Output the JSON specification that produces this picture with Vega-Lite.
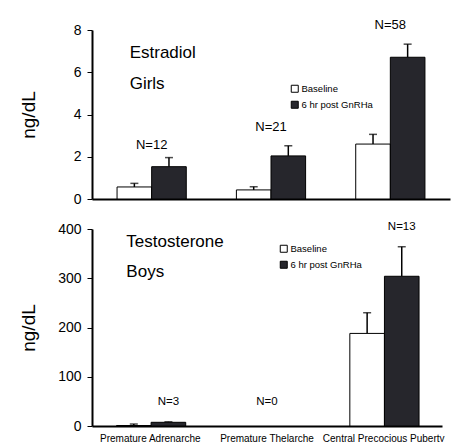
{
  "$schema": "https://vega.github.io/schema/vega-lite/v6.json",
  "padding": {"left": 19, "top": 18, "right": 5, "bottom": 0},
  "background": "white",
  "config": {
    "font": "Liberation Sans",
    "view": {"stroke": null},
    "axis": {"grid": false, "domainColor": "#000", "tickColor": "#000", "labelColor": "#000", "titleColor": "#000", "labelFont": "Liberation Sans", "titleFont": "Liberation Sans"},
    "legend": {"labelFont": "Liberation Sans"}
  },
  "datasets": {
    "bars": [
      {"panel": "Estradiol", "group": "Premature Adrenarche", "series": "Baseline", "value": 0.57, "upper": 0.74},
      {"panel": "Estradiol", "group": "Premature Adrenarche", "series": "6 hr post GnRHa", "value": 1.53, "upper": 1.96},
      {"panel": "Estradiol", "group": "Premature Thelarche", "series": "Baseline", "value": 0.43, "upper": 0.58},
      {"panel": "Estradiol", "group": "Premature Thelarche", "series": "6 hr post GnRHa", "value": 2.04, "upper": 2.52},
      {"panel": "Estradiol", "group": "Central Precocious Puberty", "series": "Baseline", "value": 2.6, "upper": 3.06},
      {"panel": "Estradiol", "group": "Central Precocious Puberty", "series": "6 hr post GnRHa", "value": 6.71, "upper": 7.33},
      {"panel": "Testosterone", "group": "Premature Adrenarche", "series": "Baseline", "value": 1, "upper": 4},
      {"panel": "Testosterone", "group": "Premature Adrenarche", "series": "6 hr post GnRHa", "value": 7.5, "upper": 8.5},
      {"panel": "Testosterone", "group": "Central Precocious Puberty", "series": "Baseline", "value": 188, "upper": 230},
      {"panel": "Testosterone", "group": "Central Precocious Puberty", "series": "6 hr post GnRHa", "value": 304, "upper": 364}
    ],
    "nlabels": [
      {"panel": "Estradiol", "group": "Premature Adrenarche", "y": 2.56, "text": "N=12"},
      {"panel": "Estradiol", "group": "Premature Thelarche", "y": 3.41, "text": "N=21"},
      {"panel": "Estradiol", "group": "Central Precocious Puberty", "y": 8.25, "text": "N=58"},
      {"panel": "Testosterone", "group": "Premature Thelarche", "y": 49, "text": "N=0"}
    ],
    "nlabels2": [
      {"panel": "Testosterone", "group": "Premature Adrenarche", "series": "6 hr post GnRHa", "y": 49, "text": "N=3"},
      {"panel": "Testosterone", "group": "Central Precocious Puberty", "series": "6 hr post GnRHa", "y": 404, "text": "N=13"}
    ],
    "notes": [
      {"panel": "Estradiol", "group": "Premature Adrenarche", "y": 6.9, "text": "Estradiol"},
      {"panel": "Estradiol", "group": "Premature Adrenarche", "y": 5.45, "text": "Girls"},
      {"panel": "Testosterone", "group": "Premature Adrenarche", "y": 373, "text": "Testosterone"},
      {"panel": "Testosterone", "group": "Premature Adrenarche", "y": 312, "text": "Boys"}
    ]
  },
  "spacing": 30,
  "bounds": "flush",
  "resolve": {"scale": {"fill": "independent"}, "legend": {"fill": "independent"}},
  "vconcat": [
    {
      "width": 358,
      "height": 169,
      "encoding": {
        "x": {"field": "group", "type": "nominal", "scale": {"domain": ["Premature Adrenarche", "Premature Thelarche", "Central Precocious Puberty"], "paddingInner": 0.42, "paddingOuter": 0.21}, "axis": {"labels": false, "ticks": false, "title": null, "domainWidth": 2}}
      },
      "layer": [
        {
          "data": {"name": "bars"},
          "transform": [{"filter": "datum.panel == 'Estradiol'"}],
          "mark": {"type": "rule", "color": "#000", "strokeWidth": 1.5},
          "encoding": {
            "xOffset": {"field": "series", "type": "nominal", "scale": {"domain": ["Baseline", "6 hr post GnRHa"], "paddingInner": 0}},
            "y": {"field": "value", "type": "quantitative"},
            "y2": {"field": "upper"}
          }
        },
        {
          "data": {"name": "bars"},
          "transform": [{"filter": "datum.panel == 'Estradiol'"}],
          "mark": {"type": "tick", "orient": "horizontal", "size": 8, "thickness": 1.5, "color": "#000"},
          "encoding": {
            "xOffset": {"field": "series", "type": "nominal"},
            "y": {"field": "upper", "type": "quantitative"}
          }
        },
        {
          "data": {"name": "bars"},
          "transform": [{"filter": "datum.panel == 'Estradiol'"}],
          "mark": {"type": "bar", "stroke": "#000", "strokeWidth": 1},
          "encoding": {
            "xOffset": {"field": "series", "type": "nominal"},
            "y": {"field": "value", "type": "quantitative", "scale": {"domain": [0, 8]},
              "axis": {"values": [0, 1, 2, 3, 4, 5, 6, 7, 8], "labelExpr": "datum.value % 2 == 0 ? datum.label : ''", "labelFontSize": 14, "tickSize": 5, "labelPadding": 6, "domainWidth": 2, "title": "ng/dL", "titleFontSize": 19, "titleFontWeight": "normal", "titleX": -64, "titleY": 84.5, "titleBaseline": "middle", "titleAlign": "center", "titleAngle": -90}},
            "fill": {"field": "series", "type": "nominal", "scale": {"domain": ["Baseline", "6 hr post GnRHa"], "range": ["#ffffff", "#26262c"]},
              "legend": {"title": null, "orient": "none", "legendX": 198, "legendY": 54, "symbolType": "square", "symbolSize": 49, "symbolStrokeColor": "#000", "symbolStrokeWidth": 1, "labelFontSize": 9.5, "labelOffset": 2, "rowPadding": 4, "padding": 0}}
          }
        },
        {
          "data": {"name": "nlabels"},
          "transform": [{"filter": "datum.panel == 'Estradiol'"}],
          "mark": {"type": "text", "fontSize": 13, "color": "#000", "baseline": "middle"},
          "encoding": {
            "y": {"field": "y", "type": "quantitative"},
            "text": {"field": "text"}
          }
        },
        {
          "data": {"name": "notes"},
          "transform": [{"filter": "datum.panel == 'Estradiol'"}],
          "mark": {"type": "text", "fontSize": 17, "color": "#000", "align": "left", "baseline": "middle", "dx": -22},
          "encoding": {
            "y": {"field": "y", "type": "quantitative"},
            "text": {"field": "text"}
          }
        }
      ]
    },
    {
      "width": 350,
      "height": 197,
      "encoding": {
        "x": {"field": "group", "type": "nominal", "scale": {"domain": ["Premature Adrenarche", "Premature Thelarche", "Central Precocious Puberty"], "paddingInner": 0.42, "paddingOuter": 0.21}, "axis": {"labelAngle": 0, "labelFontSize": 10, "ticks": false, "labelPadding": 7, "title": null, "domainWidth": 2}}
      },
      "layer": [
        {
          "data": {"name": "bars"},
          "transform": [{"filter": "datum.panel == 'Testosterone'"}],
          "mark": {"type": "rule", "color": "#000", "strokeWidth": 1.5},
          "encoding": {
            "xOffset": {"field": "series", "type": "nominal", "scale": {"domain": ["Baseline", "6 hr post GnRHa"], "paddingInner": 0}},
            "y": {"field": "value", "type": "quantitative"},
            "y2": {"field": "upper"}
          }
        },
        {
          "data": {"name": "bars"},
          "transform": [{"filter": "datum.panel == 'Testosterone'"}],
          "mark": {"type": "tick", "orient": "horizontal", "size": 8, "thickness": 1.5, "color": "#000"},
          "encoding": {
            "xOffset": {"field": "series", "type": "nominal"},
            "y": {"field": "upper", "type": "quantitative"}
          }
        },
        {
          "data": {"name": "bars"},
          "transform": [{"filter": "datum.panel == 'Testosterone'"}],
          "mark": {"type": "bar", "stroke": "#000", "strokeWidth": 1},
          "encoding": {
            "xOffset": {"field": "series", "type": "nominal"},
            "y": {"field": "value", "type": "quantitative", "scale": {"domain": [0, 400]},
              "axis": {"values": [0, 50, 100, 150, 200, 250, 300, 350, 400], "labelExpr": "datum.value % 100 == 0 ? datum.label : ''", "labelFontSize": 14, "tickSize": 5, "labelPadding": 6, "domainWidth": 2, "title": "ng/dL", "titleFontSize": 19, "titleFontWeight": "normal", "titleX": -64, "titleY": 98.5, "titleBaseline": "middle", "titleAlign": "center", "titleAngle": -90}},
            "fill": {"field": "series", "type": "nominal", "scale": {"domain": ["Baseline", "6 hr post GnRHa"], "range": ["#ffffff", "#26262c"]},
              "legend": {"title": null, "orient": "none", "legendX": 187, "legendY": 15, "symbolType": "square", "symbolSize": 49, "symbolStrokeColor": "#000", "symbolStrokeWidth": 1, "labelFontSize": 9.5, "labelOffset": 2, "rowPadding": 4, "padding": 0}}
          }
        },
        {
          "data": {"name": "nlabels"},
          "transform": [{"filter": "datum.panel == 'Testosterone'"}],
          "mark": {"type": "text", "fontSize": 11.5, "color": "#000", "baseline": "middle"},
          "encoding": {
            "y": {"field": "y", "type": "quantitative"},
            "text": {"field": "text"}
          }
        },
        {
          "data": {"name": "nlabels2"},
          "mark": {"type": "text", "fontSize": 11.5, "color": "#000", "baseline": "middle"},
          "encoding": {
            "xOffset": {"field": "series", "type": "nominal"},
            "y": {"field": "y", "type": "quantitative"},
            "text": {"field": "text"}
          }
        },
        {
          "data": {"name": "notes"},
          "transform": [{"filter": "datum.panel == 'Testosterone'"}],
          "mark": {"type": "text", "fontSize": 17, "color": "#000", "align": "left", "baseline": "middle", "dx": -24},
          "encoding": {
            "y": {"field": "y", "type": "quantitative"},
            "text": {"field": "text"}
          }
        }
      ]
    }
  ]
}
